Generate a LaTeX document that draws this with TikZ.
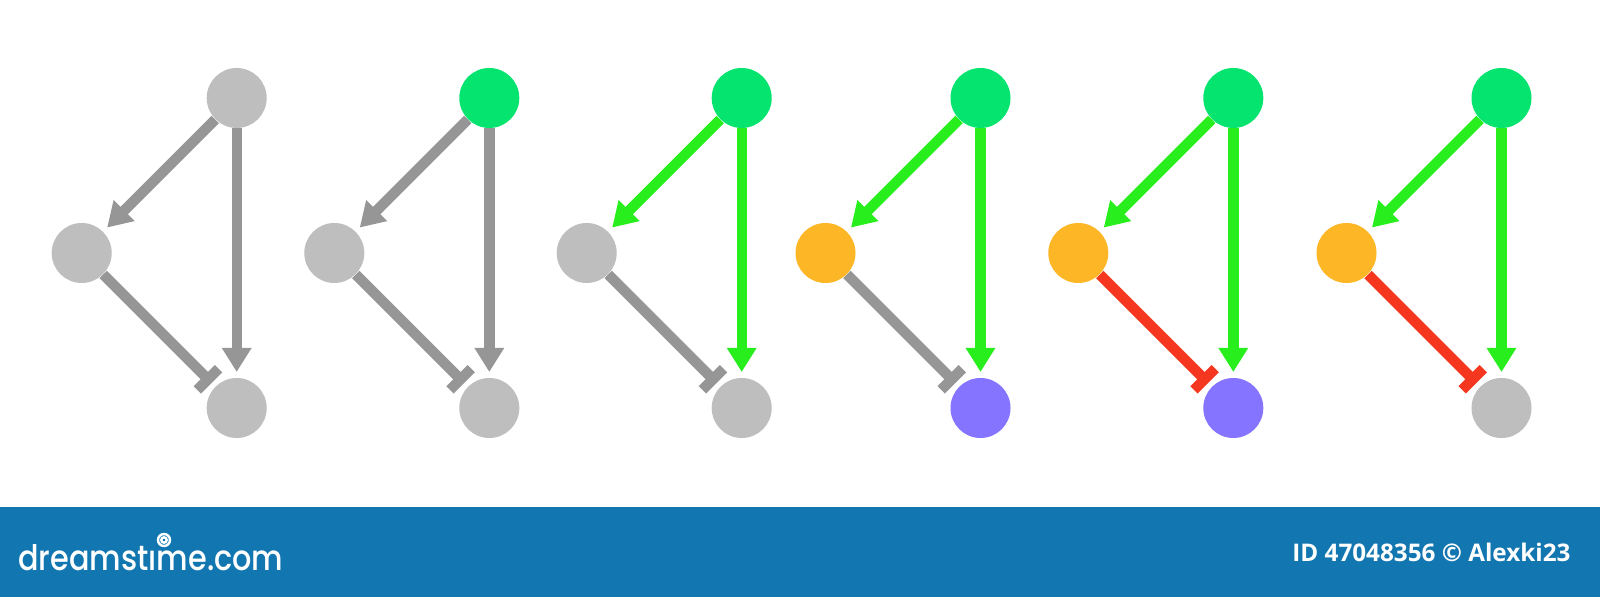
\documentclass[tikz,border=0pt]{standalone}
\usepackage{fontspec}
\usetikzlibrary{arrows.meta}
\newfontfamily\logofont{Poppins}[UprightFont={* Medium}]
\newfontfamily\idfont{Open Sans}
\definecolor{gnode}{RGB}{190,190,190}
\definecolor{gedge}{RGB}{150,150,150}
\definecolor{topgreen}{RGB}{4,228,110}
\definecolor{egreen}{RGB}{40,238,30}
\definecolor{orng}{RGB}{253,183,38}
\definecolor{purp}{RGB}{132,116,255}
\definecolor{redinh}{RGB}{246,55,32}
\definecolor{barblue}{RGB}{18,118,176}
\pgfdeclarelayer{background}
\pgfdeclarelayer{paper}
\pgfsetlayers{paper,background,main}
\tikzset{
  nd/.style={circle,draw=none,inner sep=0pt,minimum size=30pt},
  actedge/.style={line width=5.2pt,-{Triangle[width=14pt,length=12pt]},shorten >=2.8pt},
  inhedge/.style={line width=5.2pt,-{Bar[width=15pt]},shorten >=2.5pt},
}
\newcommand\motif[8]{%
  \node[nd,fill=#3] (#2t) at (#1,98) {};
  \node[nd,fill=#4] (#2m) at ({#1-155},253) {};
  \node[nd,fill=#5] (#2b) at (#1,408) {};
  \begin{pgfonlayer}{background}
    \draw[actedge,draw=#6] (#2t) -- (#2m);
    \draw[actedge,draw=#7] (#2t) -- (#2b);
    \draw[inhedge,draw=#8] (#2m) -- (#2b);
  \end{pgfonlayer}%
}
\begin{document}
\begin{tikzpicture}[x=0.5pt,y=-0.5pt]
\useasboundingbox (0,0) rectangle (1600,597);
\begin{pgfonlayer}{paper}
\fill[white] (0,0) rectangle (1600,597);
\end{pgfonlayer}
\motif{236.7}{a}{gnode}{gnode}{gnode}{gedge}{gedge}{gedge}
\motif{489.3}{b}{topgreen}{gnode}{gnode}{gedge}{gedge}{gedge}
\motif{741.7}{c}{topgreen}{gnode}{gnode}{egreen}{egreen}{gedge}
\motif{980.5}{d}{topgreen}{orng}{purp}{egreen}{egreen}{gedge}
\motif{1233.3}{e}{topgreen}{orng}{purp}{egreen}{egreen}{redinh}
\motif{1501.5}{f}{topgreen}{orng}{gnode}{egreen}{egreen}{redinh}
\fill[barblue] (0,507) rectangle (1600,597);
\node[anchor=base west,inner sep=0pt,text=white] (logo) at (18,571)
  {\resizebox{132.5pt}{13pt}{\logofont dreamst\i me.com}};
\draw[white,line width=1.2pt] (164,540) circle (6) (164,540) circle (2.7);
\node[anchor=base west,inner sep=0pt,text=white] (idtext) at (1292,562)
  {\resizebox{139pt}{!}{\idfont\bfseries ID 47048356 © Alexki23}};
\end{tikzpicture}
\end{document}
